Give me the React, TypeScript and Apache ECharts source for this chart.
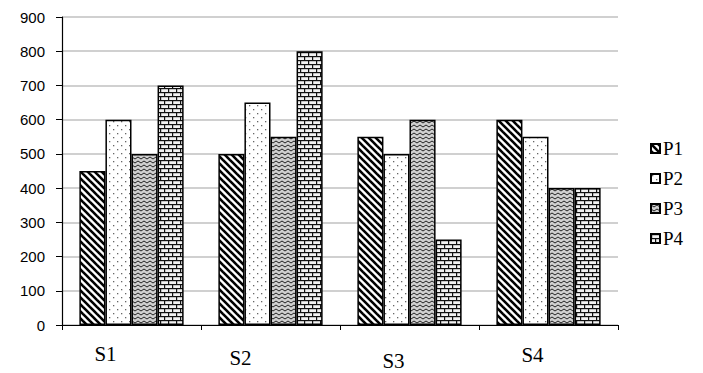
import React, { useEffect, useRef } from "react";
import * as echarts from "echarts";

const categories = ["S1", "S2", "S3", "S4"];
const seriesNames = ["P1", "P2", "P3", "P4"];
const p1Values = [450, 500, 550, 600];
const p2Values = [600, 650, 500, 550];
const p3Values = [500, 550, 600, 400];
const p4Values = [700, 800, 250, 400];
const yMax = 900;
const yInterval = 100;

function makeCanvas(w: number, h: number, draw: (c: CanvasRenderingContext2D) => void) {
  const cv = document.createElement("canvas");
  cv.width = w;
  cv.height = h;
  const ctx = cv.getContext("2d")!;
  ctx.fillStyle = "#ffffff";
  ctx.fillRect(0, 0, w, h);
  draw(ctx);
  return cv;
}

function makePatterns() {
  const diag = makeCanvas(7, 7, (c) => {
    c.strokeStyle = "#000";
    c.lineWidth = 2.6;
    for (const o of [-7, 0, 7]) {
      c.beginPath();
      c.moveTo(o - 1, -1);
      c.lineTo(o + 8, 8);
      c.stroke();
    }
  });
  const dots = makeCanvas(8, 8, (c) => {
    c.fillStyle = "#666";
    c.fillRect(1, 1, 1.3, 1.3);
    c.fillRect(5, 5, 1.3, 1.3);
  });
  const wave = makeCanvas(6, 4, (c) => {
    c.fillStyle = "#d0d0d0";
    c.fillRect(0, 0, 6, 4);
    c.strokeStyle = "#222";
    c.lineWidth = 1;
    c.beginPath();
    c.moveTo(0, 1);
    c.lineTo(3, 3);
    c.lineTo(6, 1);
    c.stroke();
  });
  const brick = makeCanvas(8, 8, (c) => {
    c.fillStyle = "#f2f2f2";
    c.fillRect(0, 0, 8, 8);
    c.fillStyle = "#111";
    c.fillRect(0, 0, 8, 1.2);
    c.fillRect(0, 4, 8, 1.2);
    c.fillRect(0, 0, 1.2, 4);
    c.fillRect(4, 4, 1.2, 4);
  });
  return [diag, dots, wave, brick];
}

export default function App() {
  const ref = useRef<HTMLDivElement>(null);
  useEffect(() => {
    if (!ref.current) return;
    const chart = echarts.init(ref.current, null, { renderer: "svg" });
    const pats = makePatterns();
    const data = [p1Values, p2Values, p3Values, p4Values];
    const font = "Times New Roman";
    const sans = "Liberation Sans";
    const labelPad: Record<string, number[]> = {
      S1: [0, 52, 0, 0],
      S2: [4, 60, 0, 0],
      S3: [7, 32, 0, 0],
      S4: [1, 32, 0, 0],
    };
    const rich: Record<string, any> = {};
    categories.forEach((c) => {
      rich[c] = { fontFamily: font, fontSize: 21, color: "#000", padding: labelPad[c] || [0, 0, 0, 0] };
    });
    chart.setOption({
      animation: false,
      backgroundColor: "#fff",
      grid: { left: 62, right: 85, top: 17, bottom: 48, containLabel: false },
      legend: {
        orient: "vertical",
        left: 645,
        top: 134,
        itemWidth: 9,
        itemHeight: 9,
        itemGap: 11,
        icon: "rect",
        textStyle: { fontFamily: font, fontSize: 19, color: "#000", padding: [0, 0, 0, -2] },
        data: seriesNames,
      },
      xAxis: {
        type: "category",
        data: categories,
        axisLine: { lineStyle: { color: "#000", width: 1.2 } },
        axisTick: { show: true, length: 5, inside: false, lineStyle: { color: "#000" } },
        axisLabel: {
          margin: 18,
          formatter: (v: string) => `{${v}|${v}}`,
          rich,
        },
        splitLine: { show: false },
      },
      yAxis: {
        type: "value",
        min: 0,
        max: yMax,
        interval: yInterval,
        axisLine: { show: true, lineStyle: { color: "#000", width: 1.2 } },
        axisTick: { show: true, length: 6, lineStyle: { color: "#000" } },
        axisLabel: { fontFamily: sans, fontSize: 15, color: "#000", margin: 17 },
        splitLine: { lineStyle: { color: "#c0c0c0", width: 1.5 } },
      },
      series: seriesNames.map((name, i) => ({
        name,
        type: "bar",
        data: data[i],
        barGap: "0%",
        barCategoryGap: "25%",
        itemStyle: {
          color: { image: pats[i], repeat: "repeat" },
          borderColor: "#000",
          borderWidth: 1.5,
        },
      })),
    });
    return () => chart.dispose();
  }, []);
  return <div ref={ref} style={{ width: 703, height: 373, position: "absolute", left: 0, top: 0 }} />;
}
